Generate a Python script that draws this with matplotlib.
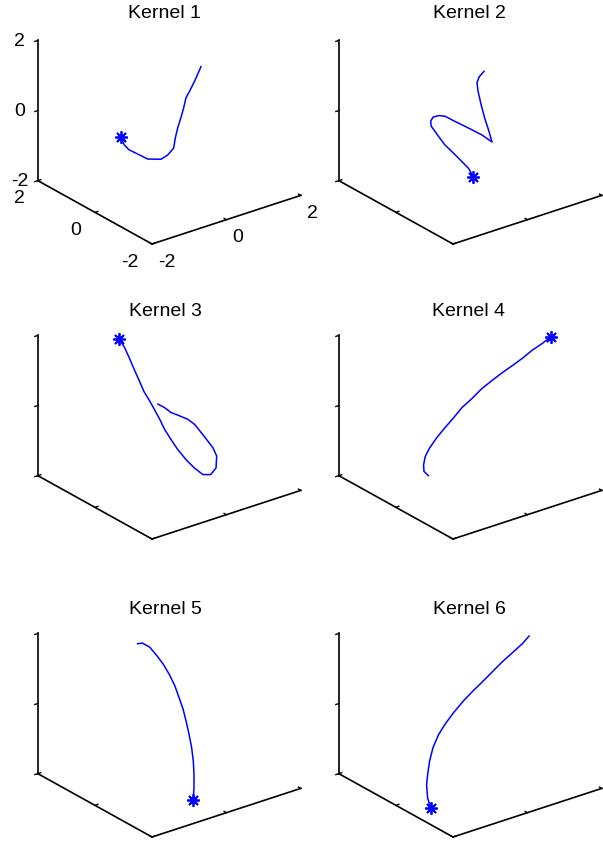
import numpy as np
import matplotlib
matplotlib.use('Agg')
import matplotlib.pyplot as plt

W, H = 603, 845

# ---- data (3D trajectories, first point marked with an asterisk) ----
k1_x = [-0.81, -0.75, -0.67, -0.50, -0.36, -0.14, -0.03, 0.07, 0.10, 0.14, 0.20, 0.24, 0.28, 0.34, 0.42, 0.53]
k1_y = [0.65, 0.60, 0.54, 0.40, 0.29, 0.11, 0.02, -0.06, -0.08, -0.11, -0.16, -0.19, -0.22, -0.27, -0.34, -0.42]
k1_z = [-0.57, -0.78, -0.92, -1.06, -1.18, -1.18, -1.06, -0.86, -0.57, -0.29, 0.05, 0.29, 0.58, 0.77, 1.06, 1.47]

k2_x = [0.05, -0.03, -0.14, -0.28, -0.42, -0.51, -0.59, -0.65, -0.66, -0.62, -0.53, -0.42, -0.26, -0.03, 0.19, 0.36, 0.31, 0.24, 0.18, 0.13, 0.11, 0.15, 0.23]
k2_y = [-0.04, 0.02, 0.11, 0.22, 0.34, 0.41, 0.47, 0.52, 0.53, 0.50, 0.42, 0.34, 0.21, 0.02, -0.15, -0.29, -0.25, -0.19, -0.14, -0.10, -0.09, -0.12, -0.18]
k2_z = [-1.68, -1.44, -1.25, -1.01, -0.78, -0.58, -0.39, -0.25, -0.11, 0.01, 0.06, 0.04, -0.10, -0.29, -0.48, -0.68, -0.38, 0.00, 0.39, 0.77, 1.01, 1.18, 1.33]

k3_x = [-0.84, -0.75, -0.67, -0.59, -0.50, -0.42, -0.33, -0.25, -0.16, -0.08, 0.03, 0.14, 0.28, 0.42, 0.56, 0.69, 0.78, 0.79, 0.73, 0.62, 0.51, 0.42, 0.31, 0.17, 0.03, -0.08, -0.19]
k3_y = [0.67, 0.60, 0.54, 0.47, 0.40, 0.34, 0.26, 0.20, 0.13, 0.06, -0.02, -0.11, -0.22, -0.34, -0.45, -0.55, -0.62, -0.63, -0.58, -0.50, -0.41, -0.34, -0.25, -0.14, -0.02, 0.06, 0.15]
k3_z = [2.11, 1.87, 1.58, 1.25, 0.91, 0.60, 0.34, 0.10, -0.18, -0.47, -0.76, -1.04, -1.33, -1.57, -1.75, -1.75, -1.56, -1.22, -0.99, -0.75, -0.51, -0.32, -0.18, -0.08, 0.01, 0.15, 0.25]

k4_x = [1.34, 1.20, 1.03, 0.87, 0.70, 0.53, 0.36, 0.19, 0.03, -0.14, -0.28, -0.42, -0.56, -0.68, -0.75, -0.78, -0.77, -0.70]
k4_y = [-1.07, -0.96, -0.82, -0.70, -0.56, -0.42, -0.29, -0.15, -0.02, 0.11, 0.22, 0.34, 0.45, 0.54, 0.60, 0.62, 0.62, 0.56]
k4_z = [2.19, 2.00, 1.80, 1.58, 1.36, 1.15, 0.93, 0.69, 0.41, 0.15, -0.14, -0.43, -0.72, -1.01, -1.25, -1.49, -1.68, -1.80]

k5_x = [0.40, 0.41, 0.41, 0.40, 0.37, 0.33, 0.28, 0.23, 0.16, 0.09, 0.00, -0.10, -0.21, -0.33, -0.45, -0.53]
k5_y = [-0.32, -0.33, -0.33, -0.32, -0.30, -0.26, -0.22, -0.18, -0.13, -0.07, 0.00, 0.08, 0.17, 0.26, 0.36, 0.42]
k5_z = [-2.53, -2.19, -1.81, -1.43, -1.04, -0.66, -0.28, 0.06, 0.39, 0.73, 1.04, 1.33, 1.58, 1.82, 1.93, 1.91]

k6_x = [-0.66, -0.71, -0.73, -0.71, -0.68, -0.62, -0.53, -0.42, -0.28, -0.11, 0.05, 0.22, 0.39, 0.53, 0.70, 0.87, 0.98]
k6_y = [0.53, 0.57, 0.58, 0.57, 0.54, 0.50, 0.42, 0.34, 0.22, 0.09, -0.04, -0.18, -0.31, -0.42, -0.56, -0.70, -0.78]
k6_z = [-2.77, -2.50, -2.12, -1.83, -1.44, -1.06, -0.68, -0.39, -0.05, 0.29, 0.58, 0.87, 1.16, 1.40, 1.67, 1.94, 2.15]

kernels = [(k1_x, k1_y, k1_z), (k2_x, k2_y, k2_z), (k3_x, k3_y, k3_z),
           (k4_x, k4_y, k4_z), (k5_x, k5_y, k5_z), (k6_x, k6_y, k6_z)]
titles = ['Kernel 1', 'Kernel 2', 'Kernel 3', 'Kernel 4', 'Kernel 5', 'Kernel 6']
tick_vals = [-2, 0, 2]
tick_labels = ['-2', '0', '2']
LO, HI = -2, 2

# ---- layout / style ----
plt.rcParams['font.family'] = ['Liberation Sans', 'DejaVu Sans']
FS = 14
front_targets = [(152, 245), (453, 245), (152, 540), (453, 540), (152, 838), (453, 838)]
box_width = 263
title_pos = [(164, 14), (469, 14), (165, 312), (469, 312), (165, 610), (469, 610)]
CURVE = '#0000ff'

fig = plt.figure(figsize=(W / 100, H / 100), dpi=100)
fig.patch.set_facecolor('white')


def project(ax, x, y, z):
    """Project a 3D data point to the 2D data coordinates of a 3D axes."""
    M = ax.get_proj()
    v = M @ np.array([x, y, z, 1.0])
    return v[0] / v[3], v[1] / v[3]


axes = []
for i in range(6):
    ax = fig.add_axes([0.02 + 0.5 * (i % 2), 0.68 - 0.33 * (i // 2), 0.45, 0.3],
                      projection='3d', proj_type='ortho')
    ax.set_xlim(LO, HI)
    ax.set_ylim(LO, HI)
    ax.set_zlim(LO, HI)
    ax.view_init(elev=25.2, azim=-127.5)
    ax.set_box_aspect((1, 1, 0.826))
    ax.set_axis_off()
    ax.patch.set_visible(False)

    # the three MATLAB-style axis lines
    ax.plot([LO, HI], [LO, LO], [LO, LO], color='k', lw=1.2)
    ax.plot([LO, LO], [LO, HI], [LO, LO], color='k', lw=1.2)
    ax.plot([LO, LO], [HI, HI], [LO, HI], color='k', lw=1.2)
    tl = 0.08
    for t in tick_vals:
        ax.plot([t, t], [LO, LO + tl], [LO, LO], color='k', lw=1.0)
        ax.plot([LO, LO + tl], [t, t], [LO, LO], color='k', lw=1.0)
        ax.plot([LO, LO - tl], [HI, HI], [t, t], color='k', lw=1.0)

    xs, ys, zs = kernels[i]
    ax.plot(xs, ys, zs, color=CURVE, lw=1.1)
    ax.plot([xs[0]], [ys[0]], [zs[0]], linestyle='none', marker=(8, 2, 0),
            markersize=9, markeredgewidth=1.3, color=CURVE)

    if i == 0:
        for t, s in zip(tick_vals, tick_labels):
            for (px, py), ha in ((project(ax, LO - 0.31, HI + 0.235, t), 'center'),
                                 (project(ax, LO - 0.36, t, LO - 0.365), 'right'),
                                 (project(ax, t, LO - 0.207, LO - 0.395), 'left')):
                ax.text2D(px, py, s, transform=ax.transData, ha=ha, va='center',
                          fontsize=FS)

    fig.text(title_pos[i][0] / W, 1 - title_pos[i][1] / H, titles[i],
             ha='center', va='center', fontsize=FS)
    axes.append(ax)


def corner_px(ax):
    pts = [project(ax, LO, LO, LO), project(ax, HI, LO, LO), project(ax, LO, HI, HI)]
    return ax.transData.transform(np.array(pts))


# place each 3D box so its corners land where the reference has them
for _ in range(3):
    fig.canvas.draw()
    for ax, (fx, fy) in zip(axes, front_targets):
        front, right, top = corner_px(ax)
        s = box_width / (right[0] - top[0])
        pos = ax.get_position(original=True)
        cx = (pos.x0 + pos.x1) / 2 * W
        cy = (pos.y0 + pos.y1) / 2 * H
        tx, ty = fx, H - fy
        ncx = tx - s * (front[0] - cx)
        ncy = ty - s * (front[1] - cy)
        nw = pos.width * W * s
        nh = pos.height * H * s
        ax.set_position([(ncx - nw / 2) / W, (ncy - nh / 2) / H, nw / W, nh / H])

fig.savefig('out.png', dpi=100, facecolor='white')
